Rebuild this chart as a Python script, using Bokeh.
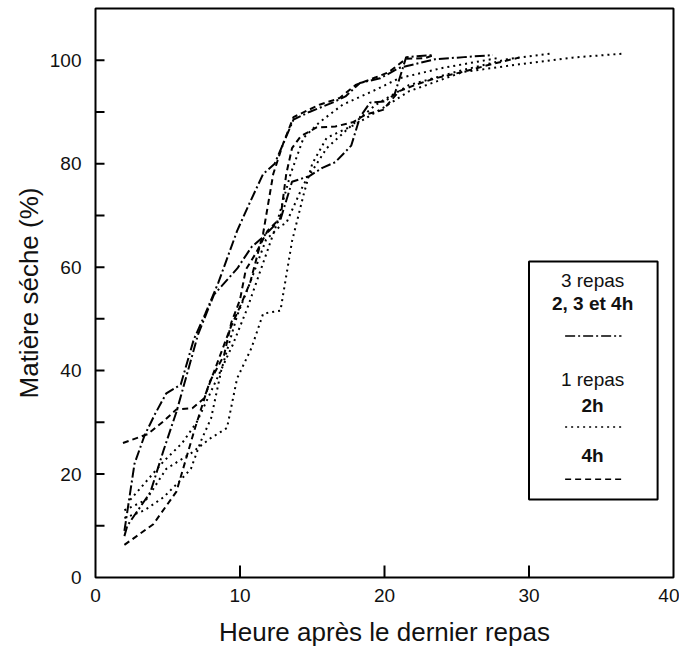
from bokeh.plotting import figure
from bokeh.models import FixedTicker, BoxAnnotation, Label, ColumnDataSource
from bokeh.embed import file_html
from bokeh.resources import INLINE

# ---------------- data ----------------
# 3 repas (dash-dot)
a_x = [2, 2.7, 3.4, 4.1, 4.9, 5.9, 6.8, 7.6, 8.5, 9.8, 10.6, 11.6, 12.4, 13.7, 14.8, 16.4, 17.3, 18.3, 19.7, 21, 23.5, 25.5, 27.5]
a_y = [9, 22, 27.5, 31.5, 35.6, 37.3, 46, 51, 57, 67, 72, 78, 80, 88.5, 90, 91.8, 93, 95.6, 96.5, 98.5, 100.2, 100.6, 101]
b_x = [2, 2.2, 3.8, 4.7, 5.6, 7.1, 8.2, 9.8, 10.8, 11.5, 12.8, 13.6, 14.8, 15.7, 16.6, 17.7, 18.3, 19, 20, 20.7, 21.5, 23.4]
b_y = [8, 10, 16.5, 24.5, 32, 47, 54.7, 59.7, 63.9, 65.6, 69.2, 76.5, 77.6, 79.2, 80.3, 83.5, 89, 91.8, 92, 93.4, 100.6, 101]
# 1 repas 4h (dashed)
c_x = [1.9, 3.6, 4.7, 5.6, 6.7, 7.5, 8.5, 9.3, 10.1, 10.7, 11.6, 12.3, 13.0, 13.7, 15.5, 16.9, 18, 19.4, 20.3, 21.5, 22.8, 23.4]
c_y = [26, 27.7, 30.2, 32.5, 32.7, 34.6, 42, 48, 53, 57, 66.5, 78, 84, 89, 91.4, 92.7, 95.2, 96.7, 97.7, 100.3, 100.4, 101]
d_x = [2, 4, 5.6, 6.9, 7.9, 8.9, 9.4, 10, 10.4, 11.1, 11.9, 12.8, 13.2, 13.6, 14.2, 15.3, 16.6, 17.8, 18.7, 19.9, 21, 22.1, 23.5, 25.5, 27.5, 29.3]
d_y = [6.3, 10.3, 16.6, 29, 37.8, 43, 49.3, 53.7, 59.5, 62.7, 67, 69.5, 78, 83, 85.3, 87, 87.2, 88, 89.5, 90.4, 94, 95.2, 96.5, 97.8, 99.3, 100.5]
# 1 repas 2h (dotted)
e1_x = [2, 3.5, 4.9, 6.6, 8, 9.1, 9.8, 10.8, 11.6, 12.8, 13.6, 14.4, 15, 16, 18, 19.9, 21.7, 25.4, 29.3, 33, 36.6]
e1_y = [13, 15, 21, 24, 27, 28.9, 38.5, 44.4, 51, 51.6, 65, 74, 80, 85, 87.6, 90.8, 94, 97.7, 99.2, 100.5, 101.3]
e2_x = [2, 3.4, 4.7, 5.6, 6.6, 7.3, 8, 8.7, 9.8, 10.7, 11.8, 12.8, 13.2, 14.4, 16, 17.8, 19.4, 21.7, 25, 28.5, 31.5]
e2_y = [11.5, 13, 15.5, 18, 21, 26.4, 30.8, 40, 50.6, 57, 65.3, 68, 68.5, 76, 83, 87.6, 91.4, 95.2, 97.8, 100.2, 101.3]
e3_x = [2.4, 4.7, 6, 7, 8.5, 9.5, 10.5, 11.5, 12.5, 13.5, 14.4, 15.5, 17.1, 19.4, 21, 24, 28]
e3_y = [15, 22.4, 26, 30, 39, 45, 52, 60, 68, 78, 85, 88, 91.4, 94.3, 96.5, 98.5, 100.5]

x_ticks = [0, 10, 20, 30, 40]
x_inner_ticks = [10, 20, 30]
y_ticks = [0, 20, 40, 60, 80, 100]
y_inner_ticks = [10, 20, 30, 40, 50, 60, 70, 80, 90, 100]

DASHDOT = "10 3 2 3"
DOTTED = "2 4"
DASHED = "6 4"

series = [
    (a_x, a_y, DASHDOT), (b_x, b_y, DASHDOT),
    (c_x, c_y, DASHED), (d_x, d_y, DASHED),
    (e1_x, e1_y, DOTTED), (e2_x, e2_y, DOTTED), (e3_x, e3_y, DOTTED),
]

W, H = 679, 653
BL, BR, BT, BB = 95, 6, 8, 76
X0, X1, Y0, Y1 = 0, 40, 0, 110
p = figure(width=W, height=H, x_range=(X0, X1), y_range=(Y0, Y1),
           output_backend="svg", toolbar_location=None,
           min_border_left=BL, min_border_right=BR, min_border_top=BT, min_border_bottom=BB)
p.grid.visible = False
p.outline_line_color = "black"
p.outline_line_alpha = 1.0
p.outline_line_width = 2
p.background_fill_color = "white"
p.border_fill_color = "white"

for xs, ys, dash in series:
    src = ColumnDataSource(dict(x=xs, y=ys))
    p.line("x", "y", source=src, line_color="black", line_width=2, line_dash=dash)

# inward tick marks
px_x = (X1 - X0) / float(W - BL - BR)
px_y = (Y1 - Y0) / float(H - BT - BB)
p.segment(x0=[X0] * len(y_inner_ticks), x1=[X0 + 9 * px_x] * len(y_inner_ticks),
          y0=y_inner_ticks, y1=y_inner_ticks, line_color="black", line_width=2)
p.segment(x0=x_inner_ticks, x1=x_inner_ticks, y0=[Y0] * len(x_inner_ticks),
          y1=[Y0 + 12 * px_y] * len(x_inner_ticks), line_color="black", line_width=2)

FONT = "Liberation Sans"
p.xaxis.ticker = FixedTicker(ticks=x_ticks)
p.yaxis.ticker = FixedTicker(ticks=y_ticks, minor_ticks=[])
for ax in (p.xaxis, p.yaxis):
    ax.axis_line_color = None
    ax.major_tick_out = 0
    ax.major_tick_in = 0
    ax.minor_tick_out = 0
    ax.minor_tick_in = 0
    ax.major_label_text_font = FONT
    ax.major_label_text_font_size = "19px"
    ax.major_label_text_color = "#111111"
    ax.axis_label_text_font = FONT
    ax.axis_label_text_font_size = "26px"
    ax.axis_label_text_font_style = "normal"
    ax.axis_label_text_color = "#111111"
p.xaxis.major_label_standoff = 11
p.yaxis.major_label_standoff = 14
p.xaxis.axis_label = "Heure après le dernier repas"
p.yaxis.axis_label = "Matière séche (%)"
p.xaxis.axis_label_standoff = 12
p.yaxis.axis_label_standoff = 3

# ---------------- hand-drawn legend box ----------------
p.add_layout(BoxAnnotation(left=30.0, right=38.9, bottom=15.1, top=61.1,
                           fill_color="white", fill_alpha=1.0,
                           line_color="black", line_alpha=1.0, line_width=2, level="annotation"))
cx = 34.4
texts = [("3 repas", 57.5, "normal"), ("2, 3 et 4h", 52.9, "bold"),
         ("1 repas", 38.3, "normal"), ("2h", 33.3, "bold"), ("4h", 23.6, "bold")]
for t, ty, st in texts:
    p.add_layout(Label(x=cx, y=ty, text=t, text_align="center", text_baseline="middle",
                       text_font=FONT, text_font_size="19px", text_font_style=st,
                       text_color="#111111", level="overlay"))
for sy, dash in [(46.7, DASHDOT), (29.1, DOTTED), (19.0, DASHED)]:
    p.line([32.5, 36.4], [sy, sy], line_color="black", line_width=1.5, line_dash=dash, level="overlay")

open("out.html", "w").write(file_html(p, INLINE))
